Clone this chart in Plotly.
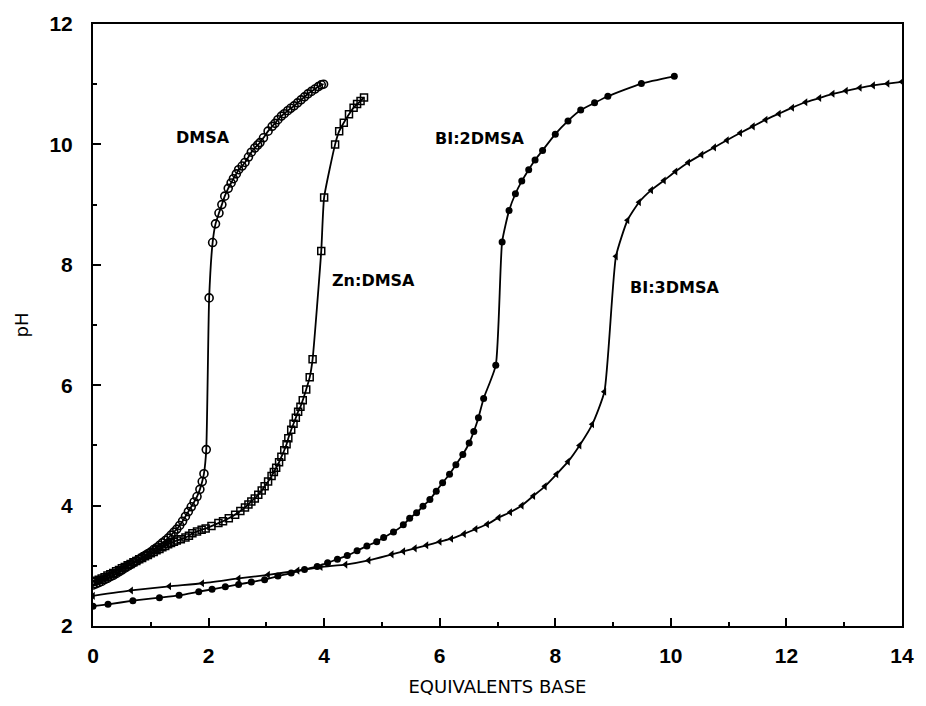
import plotly.graph_objects as go

# ---- data ----
dmsa_x = [0.00, 0.05, 0.10, 0.15, 0.20, 0.25, 0.30, 0.35, 0.40, 0.45, 0.50, 0.55, 0.60, 0.65,
          0.70, 0.75, 0.80, 0.85, 0.90, 0.95, 1.00, 1.05, 1.10, 1.15, 1.20, 1.25, 1.30, 1.35,
          1.40, 1.45, 1.50, 1.55, 1.60, 1.65, 1.70, 1.75, 1.80, 1.85, 1.89, 1.92, 1.96,
          2.01, 2.07, 2.12, 2.18, 2.23, 2.28, 2.34, 2.39, 2.43, 2.48, 2.52, 2.58, 2.63, 2.69,
          2.74, 2.80, 2.85, 2.89, 2.95, 3.03, 3.10, 3.15, 3.20, 3.26, 3.31, 3.37, 3.42, 3.48,
          3.54, 3.60, 3.66, 3.72, 3.78, 3.84, 3.90, 3.95, 3.99]
dmsa_ph = [2.68, 2.70, 2.72, 2.74, 2.77, 2.79, 2.82, 2.84, 2.87, 2.90, 2.93, 2.96, 2.99, 3.02,
           3.05, 3.08, 3.11, 3.14, 3.17, 3.20, 3.23, 3.27, 3.30, 3.34, 3.38, 3.42, 3.46, 3.51,
           3.56, 3.61, 3.67, 3.74, 3.82, 3.90, 3.98, 4.06, 4.15, 4.27, 4.40, 4.53, 4.93,
           7.45, 8.37, 8.68, 8.86, 9.00, 9.14, 9.27, 9.36, 9.43, 9.51, 9.58, 9.64, 9.70, 9.79,
           9.87, 9.94, 9.99, 10.03, 10.11, 10.22, 10.30, 10.35, 10.41, 10.47, 10.51, 10.56, 10.60, 10.64,
           10.69, 10.74, 10.79, 10.84, 10.88, 10.92, 10.96, 10.99, 11.00]

zn_x = [0.00, 0.05, 0.10, 0.15, 0.20, 0.25, 0.30, 0.35, 0.40, 0.45, 0.50, 0.55, 0.60, 0.65,
        0.70, 0.75, 0.80, 0.85, 0.90, 0.95, 1.00, 1.05, 1.10, 1.15, 1.20, 1.25, 1.30, 1.35,
        1.40, 1.45, 1.52, 1.60, 1.66, 1.72, 1.80, 1.88, 1.95, 2.05, 2.17, 2.25, 2.35, 2.46,
        2.55, 2.63, 2.69, 2.74, 2.80, 2.86, 2.92, 2.97, 3.03, 3.09, 3.13, 3.17, 3.22, 3.26,
        3.31, 3.35, 3.38, 3.43, 3.47, 3.51, 3.55, 3.59, 3.63, 3.69, 3.75, 3.80,
        3.95, 4.00, 4.19, 4.26, 4.34, 4.43, 4.51, 4.57, 4.63, 4.69]
zn_ph = [2.73, 2.75, 2.77, 2.79, 2.81, 2.84, 2.86, 2.88, 2.91, 2.93, 2.96, 2.98, 3.01, 3.03,
         3.06, 3.08, 3.11, 3.13, 3.16, 3.18, 3.21, 3.23, 3.26, 3.28, 3.31, 3.33, 3.36, 3.38,
         3.40, 3.42, 3.44, 3.47, 3.50, 3.54, 3.57, 3.60, 3.62, 3.66, 3.71, 3.74, 3.79, 3.85,
         3.91, 3.97, 4.02, 4.07, 4.12, 4.18, 4.25, 4.32, 4.40, 4.49, 4.56, 4.63, 4.72, 4.81,
         4.92, 5.02, 5.12, 5.26, 5.36, 5.46, 5.56, 5.64, 5.75, 5.93, 6.13, 6.43,
         8.23, 9.12, 10.00, 10.22, 10.36, 10.50, 10.61, 10.67, 10.72, 10.78]

bi2_x = [0.00, 0.26, 0.69, 1.15, 1.49, 1.83, 2.06, 2.29, 2.52, 2.74, 2.97, 3.20, 3.43, 3.66,
         3.88, 4.06, 4.23, 4.40, 4.57, 4.74, 4.91, 5.03, 5.20, 5.37, 5.48, 5.60, 5.71, 5.83,
         5.94, 6.05, 6.17, 6.28, 6.40, 6.51, 6.59, 6.67, 6.76, 6.97,
         7.08, 7.20, 7.31, 7.42, 7.54, 7.65, 7.78, 8.00, 8.22, 8.44, 8.68, 8.91, 9.49, 10.06]
bi2_ph = [2.33, 2.36, 2.42, 2.47, 2.51, 2.57, 2.61, 2.65, 2.69, 2.73, 2.77, 2.83, 2.88, 2.94,
          2.99, 3.05, 3.11, 3.17, 3.25, 3.33, 3.40, 3.47, 3.56, 3.68, 3.79, 3.88, 3.99, 4.10,
          4.24, 4.38, 4.52, 4.68, 4.85, 5.04, 5.23, 5.46, 5.78, 6.33,
          8.38, 8.90, 9.18, 9.39, 9.58, 9.74, 9.90, 10.17, 10.39, 10.57, 10.69, 10.80, 11.01, 11.13]

bi3_x = [0.00, 0.66, 1.32, 1.89, 2.52, 3.03, 3.54, 3.94, 4.37, 4.77, 5.17, 5.37, 5.57, 5.77,
         6.00, 6.20, 6.42, 6.62, 6.82, 7.02, 7.22, 7.42, 7.62, 7.82, 8.02, 8.22, 8.42, 8.64,
         8.85, 9.05, 9.25, 9.45, 9.66, 9.88, 10.08, 10.30, 10.53, 10.75, 10.97, 11.20, 11.42,
         11.64, 11.87, 12.10, 12.33, 12.57, 12.80, 13.03, 13.27, 13.50, 13.75, 14.00]
bi3_ph = [2.50, 2.59, 2.66, 2.71, 2.79, 2.85, 2.92, 2.98, 3.02, 3.09, 3.19, 3.24, 3.29, 3.34,
          3.40, 3.45, 3.53, 3.61, 3.69, 3.80, 3.89, 4.00, 4.16, 4.32, 4.52, 4.73, 5.00, 5.35,
          5.89, 8.14, 8.74, 9.04, 9.24, 9.40, 9.55, 9.70, 9.83, 9.95, 10.07, 10.19, 10.30,
          10.41, 10.51, 10.61, 10.70, 10.77, 10.84, 10.89, 10.94, 10.98, 11.01, 11.04]

labels = ["DMSA", "Zn:DMSA", "BI:2DMSA", "BI:3DMSA"]
label_x = [1.90, 4.86, 6.68, 10.07]
label_y = [10.12, 7.74, 10.10, 7.62]

x_ticks = [0, 2, 4, 6, 8, 10, 12, 14]
y_ticks = [2, 4, 6, 8, 10, 12]

# ---- figure ----
fig = go.Figure()
line_style = dict(color="black", width=1.8, shape="spline", smoothing=0.5)

series = [
    (dmsa_x, dmsa_ph, dict(symbol="circle-open", size=8, color="black", line=dict(width=1.6, color="black"))),
    (zn_x, zn_ph, dict(symbol="square-open", size=7, color="black", line=dict(width=1.5, color="black"))),
    (bi2_x, bi2_ph, dict(symbol="circle", size=7, color="black")),
    (bi3_x, bi3_ph, dict(symbol="triangle-left", size=7, color="black")),
]
for xs, ys, mk in series:
    fig.add_trace(go.Scatter(x=xs, y=ys, mode="lines+markers", line=line_style,
                             marker=mk, showlegend=False))

for t, lx, ly in zip(labels, label_x, label_y):
    fig.add_annotation(x=lx, y=ly, text=t, showarrow=False,
                       font=dict(family="DejaVu Sans", size=16, color="black", weight="bold"))

tick_font = dict(family="Liberation Sans, Arial", size=21, color="black", weight="bold")
title_font = dict(family="DejaVu Sans", size=18, color="black")

fig.update_xaxes(range=[0, 14], tickvals=x_ticks, ticks="inside", ticklen=8, tickwidth=2,
                 tickcolor="black", showline=True, linewidth=2, linecolor="black", mirror=True,
                 showgrid=False, zeroline=False, tickfont=tick_font, ticklabelstandoff=10,
                 minor=dict(ticks="inside", ticklen=4, tickwidth=2, tickcolor="black", dtick=1, showgrid=False),
                 title=dict(text="EQUIVALENTS BASE", font=title_font, standoff=14))
fig.update_yaxes(range=[2, 12], tickvals=y_ticks, ticks="inside", ticklen=8, tickwidth=2,
                 tickcolor="black", showline=True, linewidth=2, linecolor="black", mirror=True,
                 showgrid=False, zeroline=False, tickfont=tick_font, ticklabelstandoff=14,
                 minor=dict(ticks="inside", ticklen=4, tickwidth=2, tickcolor="black", dtick=1, showgrid=False),
                 title=dict(text="pH", font=title_font, standoff=16))

fig.update_layout(width=926, height=706, margin=dict(l=93, r=15, t=24, b=75),
                  plot_bgcolor="white", paper_bgcolor="white")

fig.write_html("out.html")
